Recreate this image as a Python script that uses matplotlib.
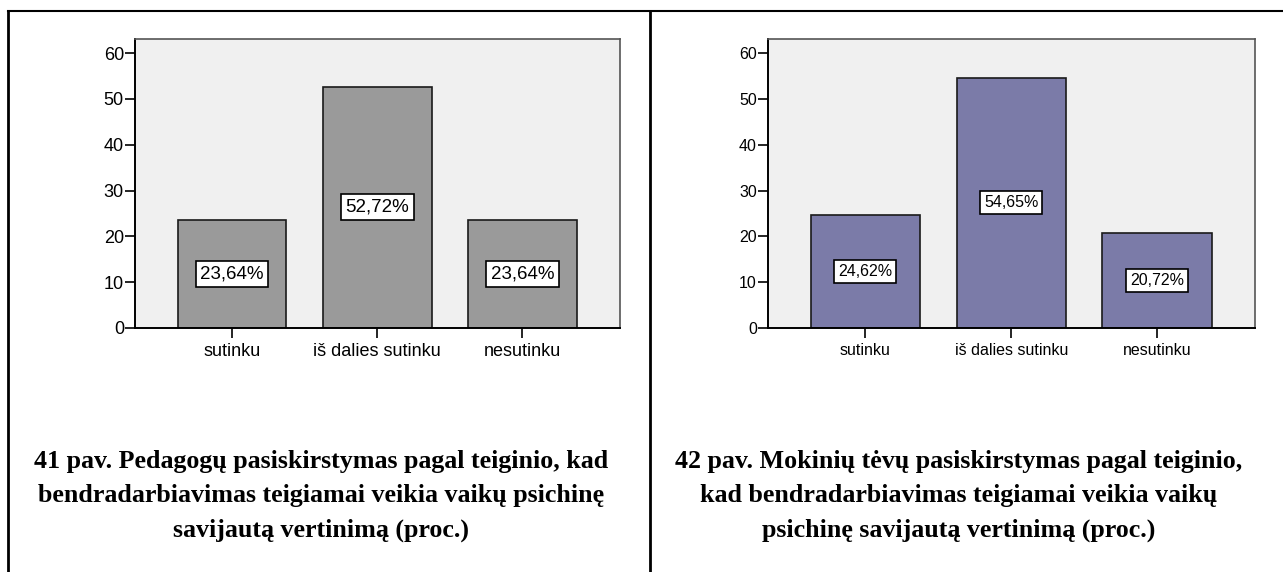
import matplotlib.pyplot as plt
from matplotlib.lines import Line2D

categories = ['sutinku', 'iš dalies sutinku', 'nesutinku']
teachers = [23.64, 52.72, 23.64]
parents = [24.62, 54.65, 20.72]
yticks = [0, 10, 20, 30, 40, 50, 60]

caption_left = ("41 pav. Pedagogų pasiskirstymas pagal teiginio, kad\n"
                "bendradarbiavimas teigiamai veikia vaikų psichinę\n"
                "savijautą vertinimą (proc.)")
caption_right = ("42 pav. Mokinių tėvų pasiskirstymas pagal teiginio,\n"
                 "kad bendradarbiavimas teigiamai veikia vaikų\n"
                 "psichinę savijautą vertinimą (proc.)")

W, H = 1283, 572
fig = plt.figure(figsize=(W / 100, H / 100), dpi=100)
plt.rcParams['font.family'] = ['Liberation Sans', 'DejaVu Sans']


def px(x0, y0, x1, y1):
    # pixel box (top-left origin) -> figure fraction rect
    return [x0 / W, 1 - y1 / H, (x1 - x0) / W, (y1 - y0) / H]


def bar_panel(rect, values, color, fsize, boxsize):
    ax = fig.add_axes(rect)
    ax.set_facecolor('#f0f0f0')
    x = range(len(values))
    ax.bar(x, values, width=0.75, color=color, edgecolor='#1a1a1a', linewidth=1.2, zorder=2)
    for i, v in enumerate(values):
        ax.text(i, v / 2, f"{v:.2f}%".replace('.', ','), ha='center', va='center',
                fontsize=boxsize, zorder=3,
                bbox=dict(boxstyle='square,pad=0.25', fc='white', ec='black', lw=1.2))
    ax.set_xlim(-0.668, 2.672)
    ax.set_ylim(0, 63.1)
    ax.set_yticks(yticks)
    ax.set_xticks(list(x))
    ax.set_xticklabels(categories)
    ax.tick_params(axis='y', length=7, width=1.2, labelsize=fsize, pad=1)
    ax.tick_params(axis='x', length=7, width=1.2, labelsize=fsize, pad=4)
    for s in ['top', 'right']:
        ax.spines[s].set_color('#555555')
        ax.spines[s].set_linewidth(1.2)
    for s in ['left', 'bottom']:
        ax.spines[s].set_color('black')
        ax.spines[s].set_linewidth(1.4)
    return ax


bar_panel(px(135, 39, 620, 328), teachers, '#9a9a9a', 13, 13.5)
bar_panel(px(768, 39, 1255, 328), parents, '#7b7ba8', 11.5, 11.5)

cap_kw = dict(ha='center', va='top', fontsize=18.7, fontweight='bold',
              family='Liberation Serif', linespacing=1.62)
fig.text(321 / W, 1 - 450 / H, caption_left, **cap_kw)
fig.text(959 / W, 1 - 450 / H, caption_right, **cap_kw)

# table frame lines
fig.add_artist(Line2D([8 / W, 1], [1 - 11 / H, 1 - 11 / H], color='black', lw=1.5))
fig.add_artist(Line2D([8 / W, 8 / W], [0, 1 - 11 / H], color='black', lw=2))
fig.add_artist(Line2D([650 / W, 650 / W], [0, 1 - 11 / H], color='black', lw=2))

fig.savefig('out.png', dpi=100)
